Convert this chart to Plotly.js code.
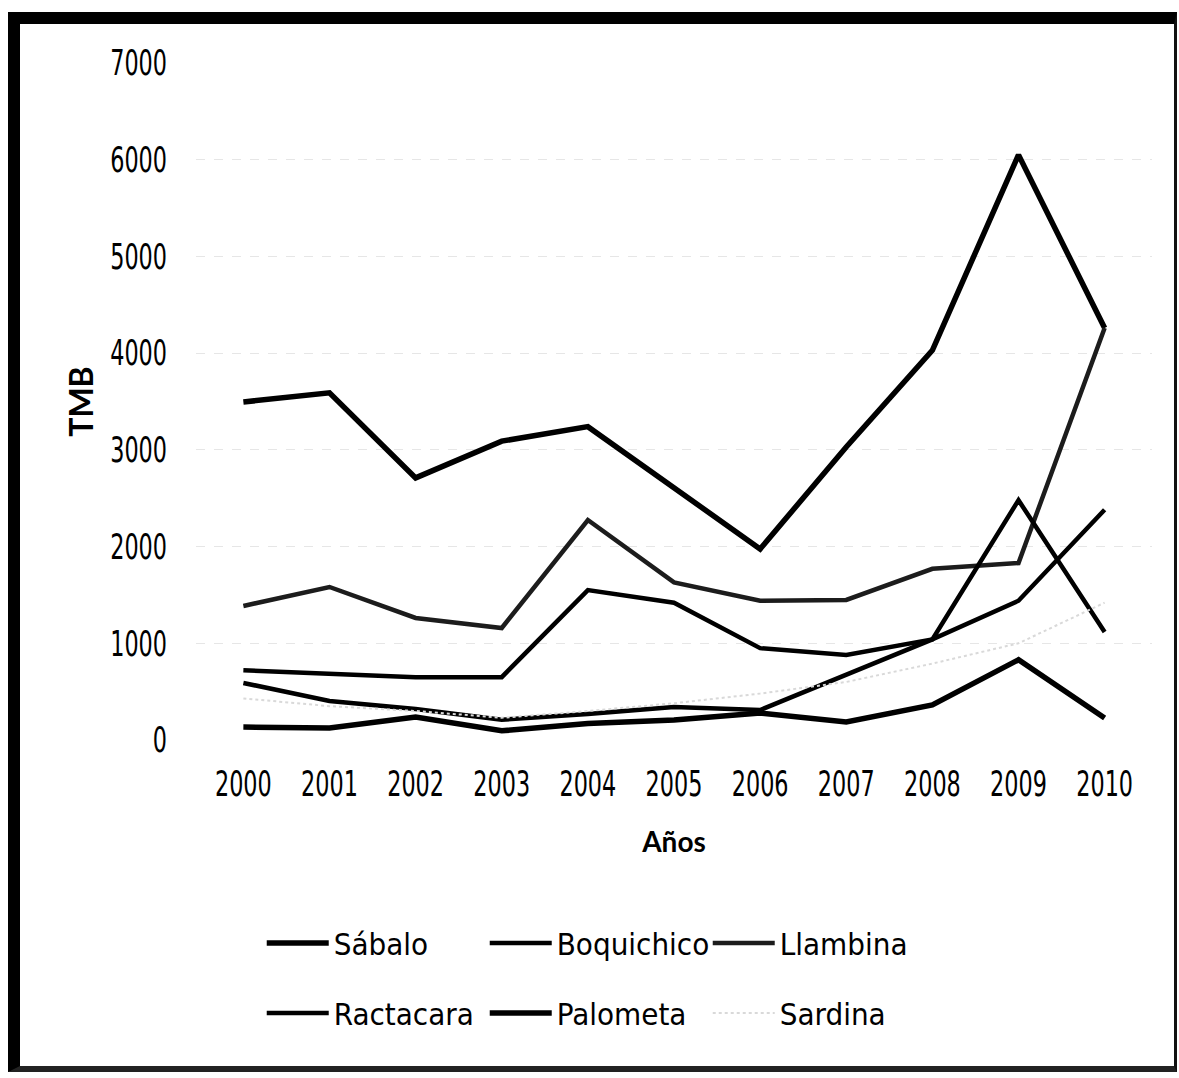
<!DOCTYPE html>
<html>
<head>
<meta charset="utf-8">
<script src="https://cdn.plot.ly/plotly-3.0.1.min.js"></script>
<style>
  html, body { margin: 0; padding: 0; background: #ffffff; }
  #wrap { position: relative; width: 1179px; height: 1078px; overflow: hidden; }
  #chart { position: absolute; left: 0; top: 0; width: 1179px; height: 1078px; }
  #frame {
    position: absolute; left: 8px; top: 12px; width: 1154px; height: 1042px;
    border-top: 12px solid #000; border-left: 12px solid #000;
    border-right: 3px solid #111; border-bottom: 6px solid #222;
    pointer-events: none;
  }
</style>
</head>
<body>
<div id="wrap">
  <div id="chart"></div>
  <div id="frame"></div>
</div>
<script>
// Captura anual por especie (TMB), 2000-2010
const years      = [2000, 2001, 2002, 2003, 2004, 2005, 2006, 2007, 2008, 2009, 2010];
const sabalo     = [3495, 3590, 2710, 3090, 3240, 2600, 1975, 3030, 4030, 6050, 4260];
const boquichico = [720, 690, 650, 650, 1550, 1420, 950, 880, 1040, 1440, 2380];
const llambina   = [1386, 1582, 1262, 1158, 2275, 1630, 1440, 1448, 1770, 1830, 4260];
const ractacara  = [590, 404, 320, 210, 270, 340, 310, 680, 1040, 2480, 1117];
const palometa   = [134, 124, 238, 95, 170, 207, 279, 186, 362, 830, 227];
const sardina    = [430, 350, 300, 230, 300, 380, 480, 600, 790, 1000, 1420];
const yTicks     = [0, 1000, 2000, 3000, 4000, 5000, 6000, 7000];

const narrow = "'Liberation Sans Narrow', 'Arial Narrow', 'DejaVu Sans Condensed', sans-serif";
const boldFace = 'Lato, sans-serif';

function series(name, y, color, width, dash, legend) {
  return {
    type: 'scatter', mode: 'lines', name: name, x: years, y: y,
    line: { color: color, width: width, dash: dash || 'solid' },
    legend: legend, hoverinfo: 'x+y+name'
  };
}

const traces = [
  series('Sábalo', sabalo, '#000000', 5.5, 'solid', 'legend'),
  series('Boquichico', boquichico, '#000000', 4.5, 'solid', 'legend'),
  series('Llambina', llambina, '#1c1c1c', 4.5, 'solid', 'legend'),
  series('Ractacara', ractacara, '#000000', 4.5, 'solid', 'legend2'),
  series('Palometa', palometa, '#000000', 5.5, 'solid', 'legend2'),
  series('Sardina', sardina, '#d9d9d9', 2, 'dot', 'legend2')
];

const legendCommon = {
  orientation: 'h', xref: 'container', yref: 'container',
  xanchor: 'left', yanchor: 'middle',
  entrywidth: 146, entrywidthmode: 'pixels', itemwidth: 62,
  bgcolor: 'rgba(0,0,0,0)', borderwidth: 0,
  font: { family: narrow, size: 31, color: '#000' }
};

const layout = {
  width: 1179, height: 1078,
  paper_bgcolor: '#ffffff', plot_bgcolor: '#ffffff',
  margin: { l: 196, r: 27, t: 63, b: 338 },
  showlegend: true,
  legend: Object.assign({}, legendCommon, { x: 0.222, y: 0.125 }),
  legend2: Object.assign({}, legendCommon, { x: 0.222, y: 0.060 }),
  xaxis: {
    type: 'linear', range: [1999.45, 2010.55],
    tickmode: 'array', tickvals: years, ticktext: years.map(String),
    showgrid: false, zeroline: false, showline: false, ticks: '',
    ticklabelstandoff: 20,
    tickfont: { family: narrow, size: 35, color: '#000' },
    title: { text: 'Años', standoff: 29, font: { family: boldFace, size: 28, weight: 'bold', color: '#000' } }
  },
  yaxis: {
    range: [0, 7000],
    tickmode: 'array', tickvals: yTicks, ticktext: yTicks.map(String),
    showgrid: true, gridcolor: '#e6e6e6', griddash: 'dash', gridwidth: 1,
    zeroline: false, showline: false, ticks: '',
    ticklabelstandoff: 28,
    tickfont: { family: narrow, size: 35, color: '#000' }
  },
  // vertical axis label, set close to the narrow tick numerals
  annotations: [{
    text: 'TMB', textangle: -90, showarrow: false,
    xref: 'paper', yref: 'paper', x: -0.121, y: 0.5,
    xanchor: 'center', yanchor: 'middle',
    font: { family: boldFace, size: 32, weight: 'bold', color: '#000' }
  }]
};

// Tick numerals are set in a tall, narrow face: squeeze each label to a fixed
// advance per character while keeping its anchor.
function condenseTicks(gd) {
  gd.querySelectorAll('.xtick text, .ytick text').forEach(function (t) {
    const n = t.textContent.length;
    t.setAttribute('textLength', (14.2 * n).toFixed(1));
    t.setAttribute('lengthAdjust', 'spacingAndGlyphs');
  });
}

Plotly.newPlot('chart', traces, layout, { displayModeBar: false, staticPlot: true })
  .then(condenseTicks);
</script>
</body>
</html>
